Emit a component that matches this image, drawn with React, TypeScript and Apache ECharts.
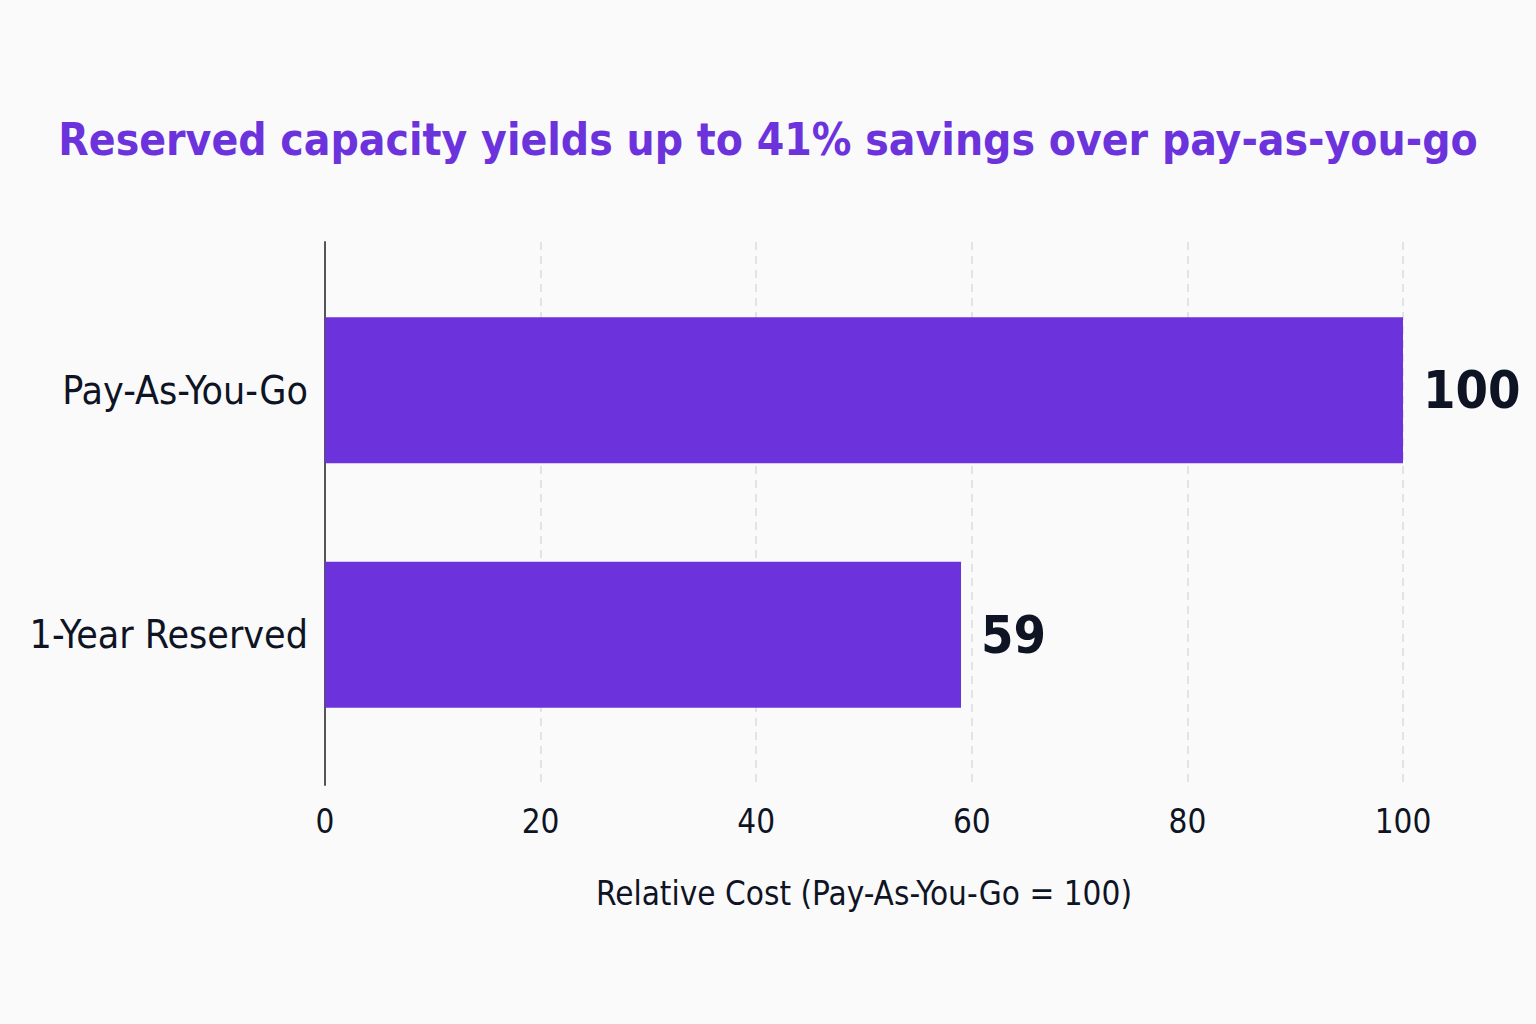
import React, {useRef, useEffect} from 'react';
import * as echarts from 'echarts';

const categories = ['1-Year Reserved', 'Pay-As-You-Go'];
const values = [59, 100];
const xTicks = [0, 20, 40, 60, 80, 100];

const FONT = '"DejaVu Sans Condensed", "Roboto", sans-serif';
const PURPLE = '#6c33dd';
const INK = '#0f1424';

const App = () => {
    const ref = useRef(null);

    useEffect(() => {
        const chart = echarts.init(ref.current as unknown as HTMLDivElement, null, {renderer: 'svg'});
        const xMin = xTicks[0];
        const xMax = xTicks[xTicks.length - 1];
        chart.setOption({
            animation: false,
            backgroundColor: '#fafafb',
            title: {
                text: 'Reserved capacity yields up to 41% savings over pay-as-you-go',
                left: 'center',
                top: 112,
                textStyle: {
                    color: PURPLE,
                    fontFamily: FONT,
                    fontWeight: 'bold',
                    fontSize: 44
                }
            },
            // grid 0: frame (axis line, dashed grid, ticks, name); grid 1: bars + category labels
            grid: [
                {left: 325, right: 133, top: 242, bottom: 239, containLabel: false, outerBoundsMode: 'none'},
                {left: 325, right: 133, top: 268, bottom: 267, containLabel: false, outerBoundsMode: 'none'}
            ],
            xAxis: [
                {
                    type: 'value',
                    gridIndex: 0,
                    min: xMin,
                    max: xMax,
                    interval: 20,
                    name: 'Relative Cost (Pay-As-You-Go = 100)',
                    nameLocation: 'middle',
                    nameGap: 92,
                    nameTextStyle: {color: INK, fontFamily: FONT, fontSize: 33},
                    axisLine: {show: false},
                    axisTick: {show: false},
                    axisLabel: {color: INK, fontFamily: FONT, fontSize: 33, margin: 20},
                    splitLine: {
                        show: true,
                        lineStyle: {color: '#dcdcdf', type: [8, 6], width: 1.5}
                    }
                },
                {
                    type: 'value',
                    gridIndex: 1,
                    min: xMin,
                    max: xMax,
                    show: false
                }
            ],
            yAxis: [
                {
                    type: 'category',
                    gridIndex: 0,
                    data: categories,
                    axisLine: {show: true, lineStyle: {color: '#555', width: 2}},
                    axisTick: {show: false},
                    axisLabel: {show: false},
                    splitLine: {show: false}
                },
                {
                    type: 'category',
                    gridIndex: 1,
                    data: categories,
                    axisLine: {show: false},
                    axisTick: {show: false},
                    axisLabel: {color: INK, fontFamily: FONT, fontSize: 39, margin: 17},
                    splitLine: {show: false}
                }
            ],
            series: [
                {
                    type: 'bar',
                    xAxisIndex: 1,
                    yAxisIndex: 1,
                    data: values,
                    barWidth: 146,
                    itemStyle: {color: PURPLE},
                    label: {
                        show: true,
                        position: 'right',
                        distance: 20,
                        color: INK,
                        fontFamily: FONT,
                        fontWeight: 'bold',
                        fontSize: 52
                    }
                }
            ]
        });
        return () => chart.dispose();
    }, []);

    return <div ref={ref} style={{position: 'fixed', left: 0, top: 0, width: 1536, height: 1024}}></div>;
};

export default App;
